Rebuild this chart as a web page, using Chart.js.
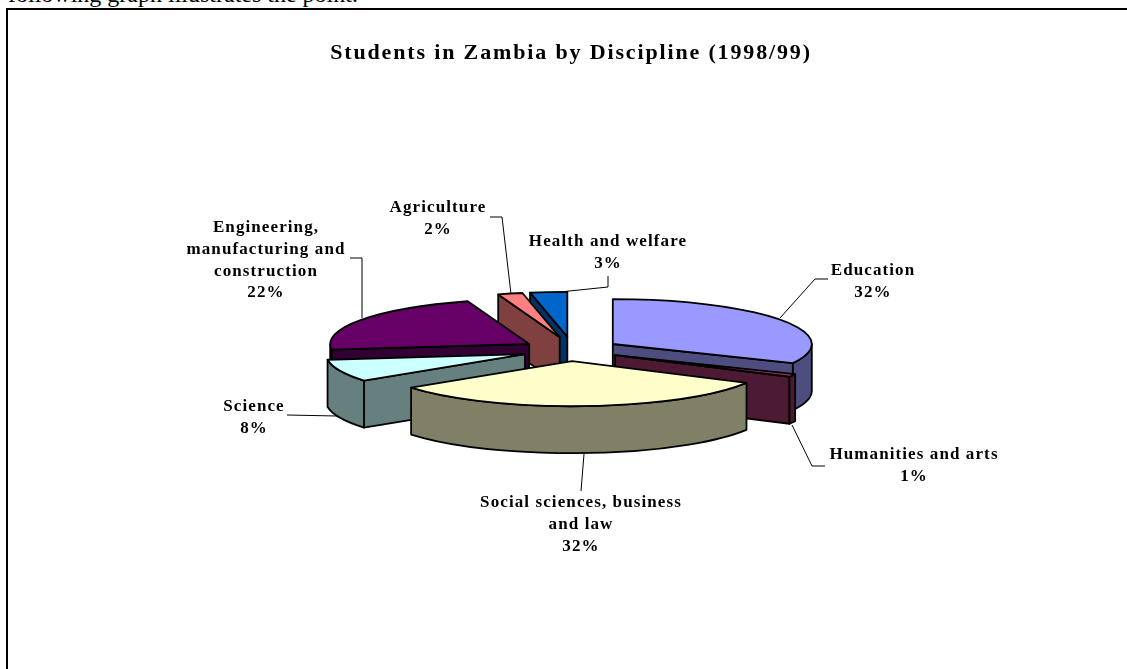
<!DOCTYPE html>
<html>
<head>
<meta charset="utf-8">
<style>
html,body{margin:0;padding:0;background:#fff;overflow:hidden;width:1127px;height:669px}
#intro{position:absolute;left:8px;top:-19.5px;font:24px/26px "Liberation Serif",serif;color:#000;white-space:nowrap}
#frameTop{position:absolute;left:6px;top:8px;width:1121px;height:2px;background:#000}
#frameLeft{position:absolute;left:6px;top:8px;width:2px;height:661px;background:#000}
canvas{position:absolute;left:0;top:0}
</style>
<script src="https://cdn.jsdelivr.net/npm/chart.js@4/dist/chart.umd.min.js"></script>
</head>
<body>
<div id="intro">following graph illustrates the point.</div>
<div id="frameTop"></div>
<div id="frameLeft"></div>
<canvas id="c" width="1142" height="669"></canvas>
<script>
// ---- data ----
const titleText = 'Students in Zambia by Discipline (1998/99)';
const categories = ['Education','Humanities and arts','Social sciences, business and law','Science','Engineering, manufacturing and construction','Agriculture','Health and welfare'];
const shares = [32,1,32,8,22,2,3];
const labelLines = [['Education'],['Humanities and arts'],['Social sciences, business','and law'],['Science'],['Engineering,','manufacturing and','construction'],['Agriculture'],['Health and welfare']];
const sliceColors = ['#9999FF','#993366','#FFFFCC','#CCFFFF','#660066','#FF8080','#0066CC'];

// ---- layout / style (not data) ----
const pieCenter = {x:571, y:350};
const tilt = 0.226, depth = 47, explodeBy = 49.5, pieRadius = 199;
const paintOrder = [6,5,4,3,0,1,2];
const sliceNudge = [[0,0],[0,0],[-2,0],[0,0],[0,0],[1,-2],[1,-2]];
const labelCenters = [[873,271],[914,455],[581,503],[254,407],[266,228],[438,208],[608,242]];
const labelLeading = 21.7;
const leaders = [
  [[780,318],[815,279],[828,279]],
  [[792,425],[812,466],[825,466]],
  [[584,454],[581,491]],
  [[287,415],[337,416]],
  [[350,258],[362,258],[362,318]],
  [[490,217],[502,217],[511,294]],
  [[550,293],[608,287],[608,276]]
];
const labelFont = 'bold 17px "Liberation Serif", serif';
const labelSpacing = '1.1px';
const titleSpacing = '1.85px';

function darken(hex){
  const n = parseInt(hex.slice(1),16);
  const h = v => Math.round(v/2).toString(16).padStart(2,'0');
  return '#'+h(n>>16&255)+h(n>>8&255)+h(n&255);
}

const pie3d = {
  id:'pie3d',
  beforeDraw(chart){ chart.ctx.letterSpacing = titleSpacing; },
  beforeDatasetsDraw(chart){
    const ctx = chart.ctx;
    const arcs = chart.getDatasetMeta(0).data;
    // leader lines sit behind the pie
    ctx.save();
    ctx.strokeStyle='#000'; ctx.lineWidth=1;
    leaders.forEach(l=>{ctx.beginPath();l.forEach((p,i)=>i?ctx.lineTo(p[0],p[1]):ctx.moveTo(p[0],p[1]));ctx.stroke();});
    ctx.restore();

    paintOrder.forEach(i=>{
      const arc = arcs[i];
      const s = arc.startAngle, e = arc.endAngle, r = arc.outerRadius, mid = (s+e)/2;
      const ax = pieCenter.x + Math.cos(mid)*explodeBy + sliceNudge[i][0];
      const ay = pieCenter.y + Math.sin(mid)*explodeBy*tilt + sliceNudge[i][1];
      const px = t => ax + Math.cos(t)*r;
      const py = t => ay + Math.sin(t)*r*tilt;
      ctx.save();
      ctx.lineWidth = 1.8; ctx.strokeStyle='#000'; ctx.lineJoin='round';
      ctx.fillStyle = darken(sliceColors[i]);
      const paint = ()=>{ctx.closePath();ctx.fill();ctx.stroke();};
      const quad = t=>{
        ctx.beginPath();ctx.moveTo(ax,ay);ctx.lineTo(px(t),py(t));
        ctx.lineTo(px(t),py(t)+depth);ctx.lineTo(ax,ay+depth);paint();
      };
      if (Math.cos(s) < -1e-6) quad(s);
      if (Math.cos(e) > 1e-6) quad(e);
      // outer wall: only the part of the rim that faces the viewer
      const w0 = Math.max(s,0), w1 = Math.min(e,Math.PI);
      if (w1 > w0){
        ctx.beginPath();
        ctx.ellipse(ax,ay,r,r*tilt,0,w0,w1);
        ctx.lineTo(px(w1),py(w1)+depth);
        ctx.ellipse(ax,ay+depth,r,r*tilt,0,w1,w0,true);
        paint();
      }
      // top face drawn by the library's own arc element, squashed
      ctx.save();
      ctx.translate(ax,ay); ctx.scale(1,tilt); ctx.translate(-arc.x,-arc.y);
      arc.draw(ctx);
      ctx.restore();
      ctx.beginPath();
      ctx.moveTo(ax,ay);
      ctx.ellipse(ax,ay,r,r*tilt,0,s,e);
      ctx.closePath();
      ctx.stroke();
      ctx.restore();
    });
    return false;
  },
  afterDraw(chart){
    const ctx = chart.ctx;
    ctx.save();
    ctx.font = labelFont; ctx.letterSpacing = labelSpacing;
    ctx.fillStyle='#000'; ctx.textAlign='center'; ctx.textBaseline='middle';
    labelLines.forEach((lines,i)=>{
      const all = lines.concat(shares[i]+'%');
      all.forEach((t,k)=>ctx.fillText(t,labelCenters[i][0],labelCenters[i][1]+k*labelLeading));
    });
    ctx.restore();
  }
};

Chart.defaults.font.family = '"Liberation Serif", serif';
new Chart(document.getElementById('c'),{
  type:'pie',
  data:{labels:categories,datasets:[{data:shares,backgroundColor:sliceColors,borderWidth:0}]},
  plugins:[pie3d],
  options:{
    responsive:false,animation:false,
    radius:pieRadius,
    layout:{padding:0},
    plugins:{
      legend:{display:false},
      tooltip:{enabled:false},
      title:{display:true,text:titleText,color:'#000',
        font:{family:'"Liberation Serif", serif',size:22,weight:'bold',lineHeight:1.2},
        padding:{top:40,bottom:10}}
    }
  }
});
</script>
</body>
</html>
